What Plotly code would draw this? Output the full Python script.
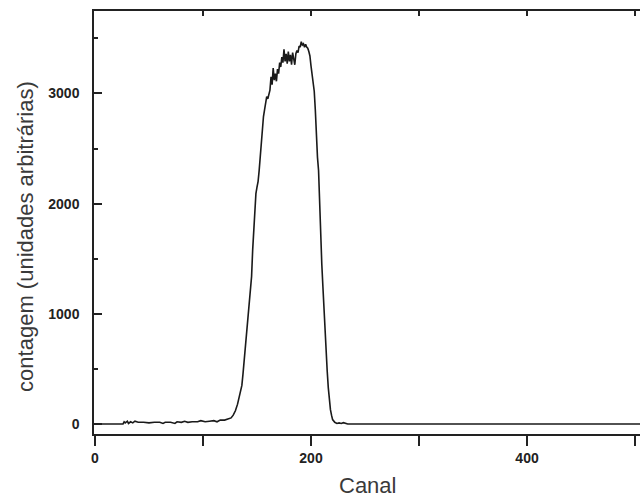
import plotly.graph_objects as go

# Channel (Canal) and counts (contagem)
canal = [0, 26, 27, 28, 30, 31, 33, 35, 37, 40, 45, 50, 55, 60, 63, 65, 70, 74, 76, 80,
         83, 86, 90, 95, 98, 102, 106, 110, 113, 116, 120, 124, 126, 128, 130, 132, 134,
         136, 137, 138, 139, 140, 141, 142, 143, 144, 145, 146, 147, 148, 149, 150, 151,
         152, 153, 154, 155, 156, 157, 158, 159, 160, 161, 162, 163, 164, 165, 166, 167,
         168, 169, 170, 171, 172, 173, 174, 175, 176, 177, 178, 179, 180, 181, 182, 183,
         184, 185, 186, 187, 188, 189, 190, 191, 192, 193, 194, 195, 196, 197, 198, 199,
         200, 201, 202, 203, 204, 205, 206, 207, 208, 209, 210, 211, 212, 213, 214, 215,
         216, 217, 218, 219, 220, 222, 224, 226, 228, 230, 232, 234, 511]
contagem = [0, 0, 20, 10, 25, 5, 20, 10, 25, 15, 15, 10, 15, 15, 5, 15, 15, 5, 20, 15,
            25, 15, 20, 20, 30, 20, 25, 30, 20, 35, 35, 50, 55, 80, 120, 180, 260,
            350, 450, 560, 680, 760, 860, 960, 1050, 1200, 1340, 1580, 1800, 1960, 2090, 2150, 2200,
            2300, 2430, 2560, 2700, 2790, 2850, 2900, 2970, 2950, 3000, 3030, 3150, 3080, 3230, 3120, 3180,
            3110, 3220, 3180, 3280, 3240, 3330, 3280, 3400, 3290, 3360, 3270, 3380, 3290, 3350, 3260, 3370,
            3300, 3260, 3360, 3390, 3370, 3430, 3420, 3470, 3440, 3450, 3420, 3445, 3420, 3410, 3380, 3340,
            3250, 3180, 3100, 3020, 2850, 2600, 2420, 2300, 1950, 1750, 1450, 1250, 1030, 850, 700, 480,
            330, 220, 130, 80, 40, 15, 5, 10, 5, 12, 5, 0, 0]

x_tickvals = [0, 100, 200, 300, 400, 500]
x_ticktext = ["0", "", "200", "", "400", ""]
y_tickvals = [0, 1000, 2000, 3000]
y_ticktext = ["0", "1000", "2000", "3000"]

x_title = "Canal"
y_title = "contagem (unidades arbitrárias)"

fig = go.Figure()
fig.add_trace(go.Scatter(x=canal, y=contagem, mode="lines",
                         line=dict(color="#1a1a1a", width=1.6), showlegend=False))
# dummy trace for the top axis
fig.add_trace(go.Scatter(x=[], y=[], xaxis="x2", yaxis="y", showlegend=False))

tickfont = dict(family="Liberation Sans, Arial, sans-serif", size=14, color="#222", weight="bold")
titlefont = dict(family="Liberation Sans, Arial, sans-serif", size=22, color="#3a3a3a")

fig.update_layout(
    width=640, height=500,
    margin=dict(l=94, r=0, t=11, b=66),
    paper_bgcolor="white", plot_bgcolor="white",
    xaxis=dict(range=[-0.9, 504.6], tickvals=x_tickvals, ticktext=x_ticktext,
               ticks="outside", ticklen=10, tickwidth=1.5, tickcolor="#222",
               showline=True, linecolor="#222", linewidth=1.5,
               showgrid=False, zeroline=False, tickfont=tickfont),
    xaxis2=dict(overlaying="x", matches="x", side="top", range=[-0.9, 504.6],
                tickvals=x_tickvals, ticks="inside", ticklen=5, tickwidth=1.5,
                tickcolor="#222", showticklabels=False, showline=True,
                linecolor="#222", linewidth=1.5, showgrid=False, zeroline=False),
    yaxis=dict(range=[-91, 3748], tickvals=y_tickvals, ticktext=y_ticktext,
               ticks="inside", ticklen=8, tickwidth=1.5, tickcolor="#222",
               minor=dict(tickvals=[500, 1500, 2500, 3500], ticks="inside", ticklen=4,
                          tickwidth=1.5, tickcolor="#222"),
               showline=True, linecolor="#222", linewidth=1.5,
               showgrid=False, zeroline=False, tickfont=tickfont,
               ticklabelstandoff=10),
    annotations=[
        dict(text=y_title, xref="paper", yref="paper", x=0, y=0.466,
             xshift=-68, xanchor="center", yanchor="middle", textangle=-90,
             showarrow=False, font=titlefont),
        dict(text=x_title, xref="paper", yref="paper", x=0.5, y=-0.1206,
             xanchor="center", yanchor="middle", showarrow=False, font=titlefont),
    ],
)

fig.write_html("out.html")
